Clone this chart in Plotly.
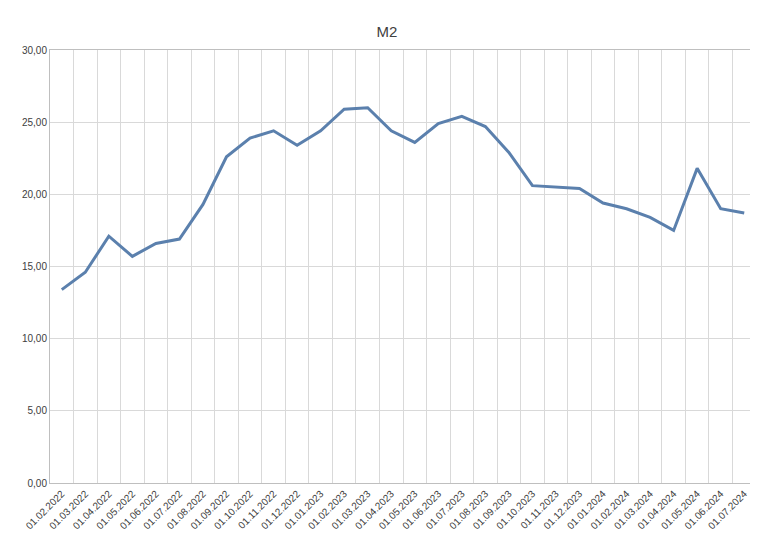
import plotly.graph_objects as go

dates = ["01.02.2022","01.03.2022","01.04.2022","01.05.2022","01.06.2022","01.07.2022","01.08.2022","01.09.2022","01.10.2022","01.11.2022","01.12.2022",
         "01.01.2023","01.02.2023","01.03.2023","01.04.2023","01.05.2023","01.06.2023","01.07.2023","01.08.2023","01.09.2023","01.10.2023","01.11.2023","01.12.2023",
         "01.01.2024","01.02.2024","01.03.2024","01.04.2024","01.05.2024","01.06.2024","01.07.2024"]
m2 = [13.4,14.6,17.1,15.7,16.6,16.9,19.3,22.6,23.9,24.4,23.4,
      24.4,25.9,26.0,24.4,23.6,24.9,25.4,24.7,22.9,20.6,20.5,20.4,
      19.4,19.0,18.4,17.5,21.8,19.0,18.7]

fig = go.Figure(go.Scatter(x=dates, y=m2, mode="lines",
                           line=dict(color="#5b80ad", width=3)))
fig.update_layout(
    width=758, height=536, separators=",.",
    title=dict(text="M2", x=0.5, y=0.965, xanchor="center",
               font=dict(family="Liberation Sans, Arial", size=15, color="#404040")),
    margin=dict(l=42, r=10, t=42, b=61),
    plot_bgcolor="white", paper_bgcolor="white", showlegend=False,
    font=dict(family="Liberation Sans, Arial", size=10, color="#404040"),
)
fig.update_xaxes(type="category", tickson="boundaries", showgrid=True, gridcolor="#d9d9d9",
                 tickangle=-45, ticks="", showline=True, linecolor="#bfbfbf", mirror=True,
                 range=[-0.5, len(dates)-0.5], automargin=False)
fig.update_yaxes(range=[0, 30], dtick=5, tickformat=".2f", showgrid=True, gridcolor="#d9d9d9",
                 zeroline=False, showline=True, linecolor="#bfbfbf", mirror=True, ticks="",
                 automargin=False)
fig.write_html("out.html")
